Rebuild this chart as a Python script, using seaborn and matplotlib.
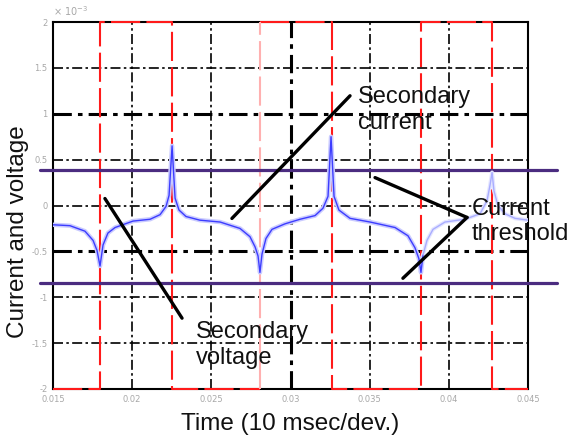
import numpy as np
import pandas as pd
import matplotlib
matplotlib.use("Agg")
import matplotlib.pyplot as plt
import seaborn as sns

# ---------------- data (current/voltage in units of 1e-3) ----------------
time_s = [0.01500, 0.01607, 0.01702, 0.01753, 0.01778, 0.01797, 0.01816, 0.01847,
          0.01892, 0.02005, 0.02113, 0.02176, 0.02214, 0.02233, 0.02252, 0.02271,
          0.02296, 0.02340, 0.02428, 0.02555, 0.02681, 0.02744, 0.02776, 0.02795,
          0.02807, 0.02820, 0.02845, 0.02883, 0.02965, 0.03060, 0.03155, 0.03205,
          0.03237, 0.03256, 0.03275, 0.03306, 0.03376, 0.03502, 0.03660, 0.03742,
          0.03786, 0.03811, 0.03824, 0.03837]
signal = [-0.21, -0.22, -0.28, -0.38, -0.49, -0.66, -0.43, -0.30,
          -0.24, -0.17, -0.15, -0.10, -0.01, 0.11, 0.65, 0.08,
          -0.05, -0.12, -0.16, -0.18, -0.25, -0.34, -0.45, -0.55,
          -0.73, -0.53, -0.36, -0.26, -0.20, -0.15, -0.11, -0.03,
          0.10, 0.75, 0.10, -0.05, -0.14, -0.18, -0.24, -0.33,
          -0.46, -0.58, -0.73, -0.54]
time_pale = [0.03837, 0.03862, 0.03900, 0.03976, 0.04102, 0.04197, 0.04241, 0.04260,
             0.04273, 0.04285, 0.04310, 0.04355, 0.04418, 0.04500]
signal_pale = [-0.54, -0.38, -0.26, -0.18, -0.15, -0.09, 0.05, 0.22,
               0.36, 0.16, 0.00, -0.09, -0.14, -0.16]

switch_times = [0.01500, 0.01797, 0.02252, 0.02807, 0.03260, 0.03824, 0.04275, 0.04500]
switch_levels = [-2, 2, -2, 2, -2, 2, -2, -2]

threshold_levels = [0.39, -0.85]

x_ticks = [0.015, 0.02, 0.025, 0.03, 0.035, 0.04, 0.045]
x_ticklabels = ["0.015", "0.02", "0.025", "0.03", "0.035", "0.04", "0.045"]
y_ticks = [-2, -1.5, -1, -0.5, 0, 0.5, 1, 1.5, 2]
y_ticklabels = ["-2", "-1.5", "-1", "-0.5", "0", "0.5", "1", "1.5", "2"]

# ---------------- figure ----------------
sns.set_theme(style="white")
plt.rcParams["font.family"] = ["Liberation Sans", "DejaVu Sans"]

fig = plt.figure(figsize=(5.72, 4.41), dpi=100)
ax = fig.add_axes([53 / 572, 1 - 389 / 441, 475 / 572, 367 / 441])

ax.set_xlim(0.015, 0.045)
ax.set_ylim(-2, 2)
ax.set_xticks(x_ticks)
ax.set_xticklabels(x_ticklabels)
ax.set_yticks(y_ticks)
ax.set_yticklabels(y_ticklabels)
ax.tick_params(axis="both", length=0, labelsize=6, labelcolor="#a8a8a8", pad=4)
for lab in ax.get_xticklabels() + ax.get_yticklabels():
    lab.set_family("DejaVu Sans")

# grid: black dash-dot
ax.grid(True, color="black", linewidth=1.2, linestyle=(0, (6, 2, 1.5, 2)))
ax.set_axisbelow(True)
for i, v in enumerate(y_ticks):
    if v in (1, -0.5):
        ax.get_ygridlines()[i].set_linewidth(2.2)
for i, v in enumerate(x_ticks):
    if v == 0.03:
        ax.get_xgridlines()[i].set_linewidth(2.2)

for s in ax.spines.values():
    s.set_color("black")
    s.set_linewidth(1.5)

# red switching signal (dashed step), the third transition drawn pale
df_sw = pd.DataFrame({"t": switch_times, "v": switch_levels})
part_a = df_sw.iloc[:4].copy()
part_a.loc[part_a.index[-1], "v"] = switch_levels[2]   # stop at the low level
part_b = df_sw.iloc[3:]
for part in (part_a, part_b):
    sns.lineplot(data=part, x="t", y="v", ax=ax, estimator=None, sort=False,
                 drawstyle="steps-post", color="#ff1a1a", linewidth=1.5)
    ln = ax.lines[-1]
    ln.set_dashes((14, 3))
    ln.set_clip_on(False)
    ln.set_zorder(3)
ax.plot([switch_times[3]] * 2, [switch_levels[2], switch_levels[3]],
        color="#ffb0b0", linewidth=1.5, dashes=(14, 3), zorder=3.1)

# threshold lines (purple), extending beyond the axes
for lv in threshold_levels:
    ax.axhline(lv, xmin=-0.027, xmax=1.061, color="#4b2c80", linewidth=2.3,
               clip_on=False, zorder=4)

# blue current signal with soft halo
df_main = pd.DataFrame({"t": time_s, "v": signal})
df_pale = pd.DataFrame({"t": time_pale, "v": signal_pale})
sns.lineplot(data=df_main, x="t", y="v", ax=ax, estimator=None, sort=False,
             color="#cacbff", linewidth=3.2, zorder=5)
sns.lineplot(data=df_main, x="t", y="v", ax=ax, estimator=None, sort=False,
             color="#3c3cff", linewidth=1.0, zorder=6)
sns.lineplot(data=df_pale, x="t", y="v", ax=ax, estimator=None, sort=False,
             color="#e4e5ff", linewidth=2.8, zorder=5)
sns.lineplot(data=df_pale, x="t", y="v", ax=ax, estimator=None, sort=False,
             color="#a9adff", linewidth=1.0, zorder=6)

ax.set_xlabel("Time (10 msec/dev.)", fontsize=17.5, color="#111111", labelpad=7)
ax.set_ylabel("Current and voltage", fontsize=17.5, color="#111111")
ax.yaxis.set_label_coords(-0.05, 0.43)
ax.text(0.0, 1.012, "× 10$^{-3}$", transform=ax.transAxes, fontsize=7,
        color="#a8a8a8", family="DejaVu Sans", ha="left", va="bottom")

# annotations
txt_kw = dict(fontsize=17, color="#111111", linespacing=1.2, zorder=8)
line_kw = dict(arrowstyle="-", color="black", lw=2.4, shrinkA=0, shrinkB=0)
ax.annotate("", xy=(0.02315, -1.228), xytext=(0.01828, 0.076), arrowprops=line_kw,
            annotation_clip=False, zorder=7)
ax.annotate("", xy=(0.03376, 1.196), xytext=(0.02630, -0.141), arrowprops=line_kw,
            annotation_clip=False, zorder=7)
ax.annotate("", xy=(0.04115, -0.130), xytext=(0.03534, 0.304), arrowprops=line_kw,
            annotation_clip=False, zorder=7)
ax.annotate("", xy=(0.03710, -0.793), xytext=(0.04115, -0.130), arrowprops=line_kw,
            annotation_clip=False, zorder=7)
ax.text(0.03426, 1.043, "Secondary\ncurrent", ha="left", va="center", **txt_kw)
ax.text(0.04146, -0.174, "Current\nthreshold", ha="left", va="center",
        clip_on=False, **txt_kw)
ax.text(0.02403, -1.522, "Secondary\nvoltage", ha="left", va="center", **txt_kw)

fig.savefig("out.png", dpi=100)
